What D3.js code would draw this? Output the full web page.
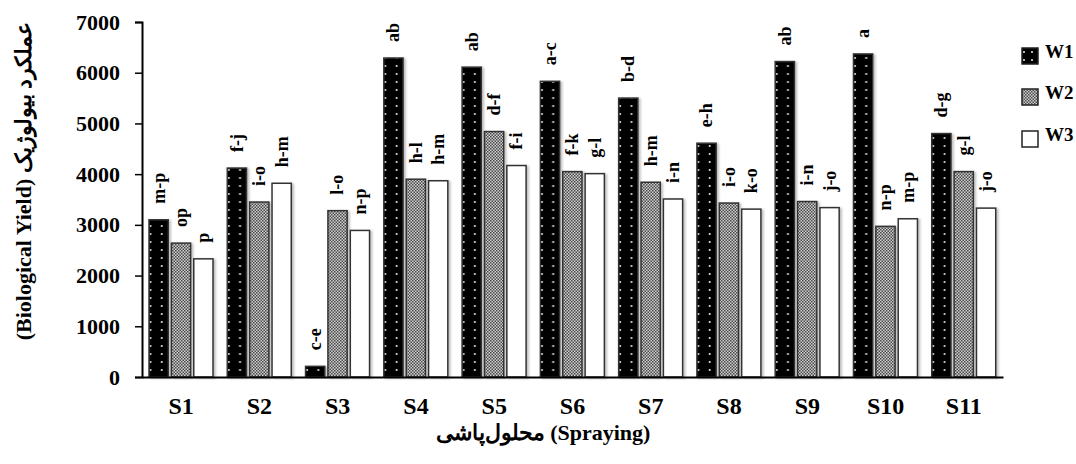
<!DOCTYPE html>
<html>
<head>
<meta charset="utf-8">
<script src="https://cdn.jsdelivr.net/npm/d3@7"></script>
<style>
  body { margin: 0; background: #fff; }
  text { font-family: "Liberation Serif", "Times New Roman", serif; font-weight: bold; fill: #000; }
</style>
</head>
<body>
<svg id="chart" width="1076" height="464"></svg>
<script>
// data
var categories = ['S1', 'S2', 'S3', 'S4', 'S5', 'S6', 'S7', 'S8', 'S9', 'S10', 'S11'];
var seriesNames = ['W1', 'W2', 'W3'];
var w1 = [3100, 4120, 210, 6290, 6110, 5830, 5500, 4610, 6220, 6370, 4800];
var w2 = [2640, 3450, 3280, 3900, 4840, 4050, 3840, 3430, 3460, 2970, 4050];
var w3 = [2330, 3820, 2890, 3870, 4170, 4010, 3510, 3310, 3340, 3120, 3330];
var w1Letters = ['m-p', 'f-j', 'c-e', 'ab', 'ab', 'a-c', 'b-d', 'e-h', 'ab', 'a', 'd-g'];
var w2Letters = ['op', 'i-o', 'l-o', 'h-l', 'd-f', 'f-k', 'h-m', 'i-o', 'i-n', 'n-p', 'g-l'];
var w3Letters = ['p', 'h-m', 'n-p', 'h-m', 'f-i', 'g-l', 'i-n', 'k-o', 'j-o', 'm-p', 'j-o'];
var yTicks = [0, 1000, 2000, 3000, 4000, 5000, 6000, 7000];

var values = [w1, w2, w3];
var letters = [w1Letters, w2Letters, w3Letters];

var margin = {top: 22, right: 73, bottom: 87, left: 142};
var svg = d3.select('#chart');
var width = 1076 - margin.left - margin.right;
var height = 464 - margin.top - margin.bottom;

var defs = svg.append('defs');

// grey checker for W2
var chk = defs.append('pattern')
    .attr('id', 'checker')
    .attr('patternUnits', 'userSpaceOnUse')
    .attr('width', 3).attr('height', 3);
chk.append('rect').attr('width', 3).attr('height', 3).attr('fill', '#cfcfcf');
chk.append('rect').attr('width', 1.5).attr('height', 1.5).attr('fill', '#4a4a4a');
chk.append('rect').attr('x', 1.5).attr('y', 1.5).attr('width', 1.5).attr('height', 1.5).attr('fill', '#4a4a4a');

var shadow = defs.append('filter').attr('id', 'shadow')
    .attr('x', '-20%').attr('y', '-5%').attr('width', '160%').attr('height', '115%');
shadow.append('feDropShadow')
    .attr('dx', 2).attr('dy', 1).attr('stdDeviation', 1.2)
    .attr('flood-color', '#000').attr('flood-opacity', 0.25);

var g = svg.append('g').attr('transform', 'translate(' + margin.left + ',' + margin.top + ')');

var x0 = d3.scaleBand().domain(categories).range([0, width]);
var x1 = d3.scaleBand().domain(seriesNames).range([7, 71]).paddingInner(0.14);
var y = d3.scaleLinear().domain([0, 7000]).range([height, 0]);

// dotted black pattern for W1, one per bar so dots line up with each bar
function dotPattern(id, px) {
    var p = defs.append('pattern')
        .attr('id', id)
        .attr('patternUnits', 'userSpaceOnUse')
        .attr('x', px).attr('y', 0)
        .attr('width', x1.bandwidth()).attr('height', 8);
    p.append('rect').attr('width', x1.bandwidth()).attr('height', 8).attr('fill', '#000');
    p.append('circle').attr('cx', 5.5).attr('cy', 4).attr('r', 1.1).attr('fill', '#ddd');
    p.append('circle').attr('cx', 13.5).attr('cy', 4).attr('r', 1.1).attr('fill', '#ddd');
}

var rows = [];
categories.forEach(function (c, i) {
    seriesNames.forEach(function (s, j) {
        rows.push({cat: c, series: s, idx: j, value: values[j][i], letter: letters[j][i]});
    });
});

rows.forEach(function (d, k) {
    if (d.idx === 0) {
        dotPattern('dots' + k, margin.left + x0(d.cat) + x1(d.series));
    }
});

function fillFor(d, k) {
    if (d.idx === 0) return 'url(#dots' + k + ')';
    if (d.idx === 1) return 'url(#checker)';
    return '#fff';
}

// bars
g.selectAll('rect.bar')
    .data(rows)
    .enter().append('rect')
    .attr('class', 'bar')
    .attr('x', function (d) { return x0(d.cat) + x1(d.series); })
    .attr('y', function (d) { return y(d.value); })
    .attr('width', x1.bandwidth())
    .attr('height', function (d) { return height - y(d.value); })
    .attr('fill', fillFor)
    .attr('stroke', '#333')
    .attr('stroke-width', 1.5)
    .attr('filter', 'url(#shadow)');

// significance letters
g.selectAll('text.letter')
    .data(rows)
    .enter().append('text')
    .attr('class', 'letter')
    .attr('transform', function (d) {
        var cx = x0(d.cat) + x1(d.series) + x1.bandwidth() / 2;
        return 'translate(' + cx + ',' + (y(d.value) - 16) + ') rotate(-90)';
    })
    .attr('dy', '0.33em')
    .style('font-size', '18px')
    .text(function (d) { return d.letter; });

// y axis
var yAxis = g.append('g')
    .call(d3.axisLeft(y).tickValues(yTicks).tickFormat(d3.format('d')).tickSize(7).tickPadding(15));
yAxis.select('.domain').attr('stroke', '#000').attr('stroke-width', 2);
yAxis.selectAll('.tick line').attr('stroke', '#000').attr('stroke-width', 1.5);
yAxis.selectAll('.tick text')
    .style('font-family', '"Liberation Serif", serif')
    .style('font-weight', 'bold')
    .style('font-size', '22px');

// x axis
var xAxis = g.append('g')
    .attr('transform', 'translate(0,' + height + ')')
    .call(d3.axisBottom(x0).tickSize(0).tickPadding(20).tickSizeOuter(0));
xAxis.select('.domain').attr('stroke', '#000').attr('stroke-width', 2);
xAxis.selectAll('.tick text')
    .style('font-family', '"Liberation Serif", serif')
    .style('font-weight', 'bold')
    .style('font-size', '24px');

// axis titles
svg.append('text')
    .attr('x', 543).attr('y', 440)
    .attr('text-anchor', 'middle')
    .style('font-size', '22px')
    .text('محلول‌پاشی (Spraying)');

svg.append('text')
    .attr('transform', 'translate(31,181) rotate(-90)')
    .attr('text-anchor', 'middle')
    .style('font-size', '22px')
    .text('(Biological Yield) عملکرد بیولوژیک');

// legend
var legend = svg.append('g').attr('transform', 'translate(1022,0)');
var legendY = [56, 97, 139];
var lp = defs.append('pattern').attr('id', 'legdots')
    .attr('patternUnits', 'userSpaceOnUse')
    .attr('x', 1022).attr('y', 48).attr('width', 8).attr('height', 8);
lp.append('rect').attr('width', 8).attr('height', 8).attr('fill', '#000');
lp.append('circle').attr('cx', 4).attr('cy', 4).attr('r', 1.1).attr('fill', '#ddd');

seriesNames.forEach(function (s, j) {
    var row = legend.append('g').attr('transform', 'translate(0,' + legendY[j] + ')');
    row.append('rect')
        .attr('x', 0).attr('y', -8)
        .attr('width', 16).attr('height', 16)
        .attr('fill', j === 0 ? 'url(#legdots)' : (j === 1 ? 'url(#checker)' : '#fff'))
        .attr('stroke', '#222')
        .attr('stroke-width', 1.5);
    row.append('text')
        .attr('x', 23).attr('y', 0)
        .attr('dy', '0.1em')
        .style('font-size', '19px')
        .text(s);
});
</script>
</body>
</html>
